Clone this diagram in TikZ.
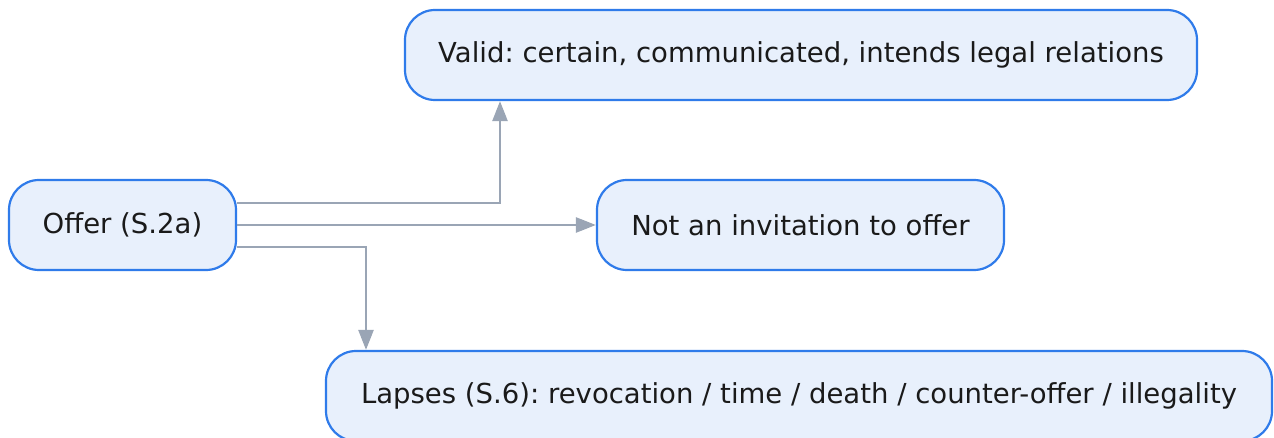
\documentclass[tikz,border=0pt]{standalone}
\usepackage{fontspec}
\setmainfont{DejaVu Sans}
\frenchspacing
\usetikzlibrary{arrows.meta}
\definecolor{boxfill}{HTML}{E8F0FC}
\definecolor{boxline}{HTML}{2F7BEA}
\definecolor{wire}{HTML}{9AA5B5}
\definecolor{ink}{HTML}{1A1A1A}
\tikzset{
  box/.style={draw=boxline, fill=boxfill, line width=2.2pt, rounded corners=30pt,
    minimum height=90pt, inner sep=0pt, text=ink, font=\fontsize{27.5}{32}\selectfont},
  wirearrow/.style={draw=wire, line width=2.6pt, -{Triangle[length=20pt,width=15pt]}},
}
\begin{document}
\begin{tikzpicture}[x=1pt,y=-1pt]
\useasboundingbox (0,0) rectangle (1274,438);
\node[box, minimum width=227pt] (offer) at (122.5,225) {Offer (S.2a)};
\node[box, minimum width=792pt] (valid) at (801,55) {Valid: certain, communicated, intends legal relations};
\node[box, minimum width=407pt] (notinv) at (800.5,225) {Not an invitation to offer};
\node[box, minimum width=946pt] (lapses) at (799,396) {Lapses (S.6): revocation / time / death / counter-offer / illegality};
\coordinate (o1) at ([yshift=22pt]offer.east);
\coordinate (o3) at ([yshift=-22pt]offer.east);
\draw[wirearrow] (o1) -| (valid.south -| 500,0);
\draw[wirearrow] (offer.east) -- (notinv.west);
\draw[wirearrow] (o3) -| (lapses.north -| 366,0);
\end{tikzpicture}
\end{document}
